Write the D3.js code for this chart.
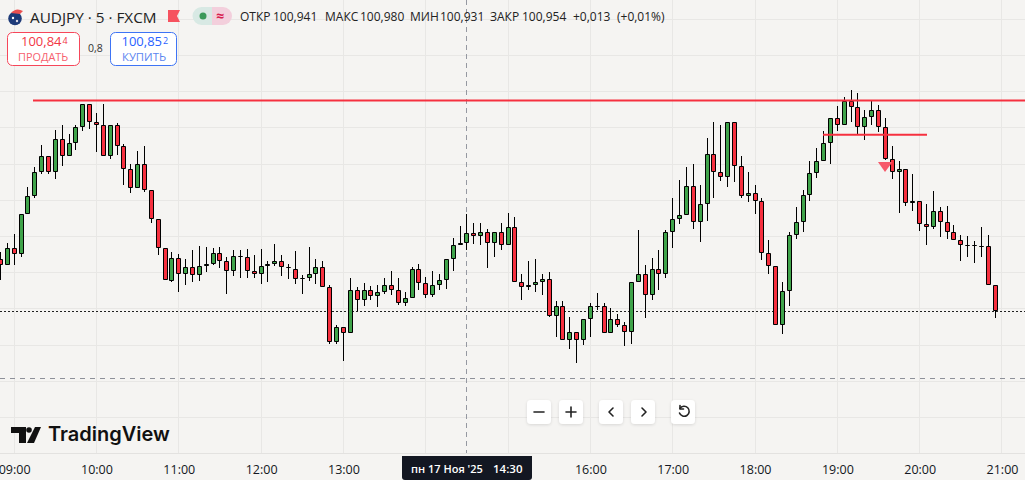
<!DOCTYPE html>
<html><head><meta charset="utf-8">
<style>html,body{margin:0;padding:0;background:#f5f4f2;overflow:hidden}svg{display:block}text{font-family:"Open Sans","Noto Sans",sans-serif}</style>
<script src="https://cdnjs.cloudflare.com/ajax/libs/d3/7.8.5/d3.min.js"></script></head><body><svg id="c" width="1025" height="480"></svg>
<script>
// OHLC prices, one entry per 5-minute bar; first bar is 2 bars before 09:00
const opens=[100.918,100.910,100.934,100.925,100.981,101.005,101.039,101.061,101.039,101.084,101.061,101.079,101.101,101.132,101.107,101.104,101.061,101.104,101.074,101.043,101.016,101.050,101.014,100.973,100.934,
100.888,100.920,100.898,100.907,100.896,100.908,100.911,100.926,100.916,100.901,100.923,100.921,100.901,100.898,100.908,100.912,100.916,100.907,100.905,100.892,100.892,100.897,100.907,100.879,100.803,
100.825,100.816,100.876,100.861,100.875,100.867,100.872,100.883,100.875,100.858,100.865,100.905,100.885,100.868,100.883,100.889,100.918,100.938,100.941,100.954,100.950,100.956,100.940,100.956,100.938,
100.962,100.886,100.879,100.883,100.886,100.890,100.840,100.854,100.806,100.817,100.807,100.836,100.854,100.854,100.816,100.836,100.827,100.818,100.887,100.898,100.868,100.905,100.898,100.956,100.974,
100.979,101.019,100.970,100.994,101.063,101.039,101.032,101.108,101.046,101.005,101.010,100.999,100.927,100.909,100.827,100.874,100.951,100.970,101.007,101.037,101.054,101.078,101.113,101.104,101.137,
101.128,101.100,101.114,101.124,101.101,101.057,101.039,101.042,100.995,100.998,100.967,100.962,100.985,100.970,100.955,100.945,100.937,100.937,100.936,100.936,100.883];
const highs=[100.928,100.941,100.953,100.981,101.018,101.045,101.076,101.061,101.096,101.103,101.091,101.103,101.133,101.133,101.120,101.132,101.104,101.106,101.077,101.050,101.068,101.075,101.014,100.974,100.934,
100.928,100.925,100.918,100.931,100.936,100.935,100.933,100.935,100.921,100.931,100.931,100.932,100.924,100.932,100.915,100.939,100.924,100.912,100.929,100.896,100.935,100.918,100.915,100.883,100.827,
100.825,100.892,100.879,100.885,100.881,100.883,100.892,100.902,100.892,100.872,100.907,100.911,100.893,100.901,100.898,100.918,100.947,100.964,100.980,100.968,100.968,100.960,100.956,100.968,100.982,
100.976,100.898,100.915,100.918,100.898,100.900,100.860,100.860,100.838,100.818,100.836,100.858,100.871,100.858,100.850,100.842,100.831,100.887,100.958,100.910,100.919,100.930,100.958,101.003,101.028,
101.045,101.049,101.021,101.086,101.107,101.103,101.108,101.108,101.061,101.039,101.020,101.002,100.945,100.909,100.887,100.956,100.990,101.013,101.053,101.072,101.095,101.113,101.130,101.142,101.152,
101.148,101.124,101.138,101.131,101.113,101.075,101.053,101.043,101.035,100.998,100.994,101.012,100.990,100.992,100.965,100.951,100.950,100.943,100.963,100.952,100.883];
const lows=[100.889,100.910,100.910,100.921,100.981,101.002,101.036,101.035,101.029,101.047,101.061,101.069,101.095,101.098,101.066,101.061,101.057,101.062,101.021,101.010,101.016,101.011,100.968,100.924,100.889,
100.887,100.873,100.883,100.886,100.888,100.900,100.910,100.906,100.870,100.895,100.892,100.892,100.892,100.884,100.887,100.909,100.895,100.891,100.884,100.870,100.888,100.884,100.879,100.801,100.801,
100.778,100.816,100.847,100.853,100.862,100.852,100.870,100.869,100.855,100.854,100.865,100.876,100.865,100.866,100.876,100.877,100.902,100.938,100.931,100.939,100.938,100.906,100.921,100.931,100.938,
100.886,100.862,100.875,100.873,100.869,100.838,100.811,100.806,100.794,100.774,100.800,100.810,100.848,100.816,100.816,100.824,100.798,100.801,100.887,100.837,100.861,100.876,100.892,100.934,100.966,
100.979,100.960,100.942,100.971,101.003,101.026,101.017,101.024,101.002,100.997,100.981,100.917,100.897,100.827,100.814,100.854,100.946,100.955,100.999,101.030,101.054,101.050,101.095,101.104,101.108,
101.089,101.083,101.104,101.094,101.055,101.029,100.982,100.992,100.984,100.957,100.938,100.960,100.949,100.946,100.944,100.916,100.921,100.913,100.921,100.882,100.837];
const closes=[100.910,100.934,100.925,100.981,101.005,101.039,101.061,101.039,101.084,101.061,101.079,101.101,101.132,101.107,101.104,101.061,101.104,101.074,101.043,101.016,101.050,101.014,100.973,100.934,100.889,
100.920,100.898,100.907,100.896,100.908,100.911,100.926,100.916,100.901,100.923,100.921,100.901,100.898,100.908,100.912,100.916,100.907,100.907,100.890,100.890,100.897,100.907,100.879,100.803,100.825,
100.816,100.876,100.861,100.875,100.867,100.872,100.883,100.875,100.858,100.865,100.905,100.885,100.868,100.883,100.889,100.918,100.938,100.941,100.954,100.950,100.956,100.940,100.956,100.938,100.962,
100.886,100.879,100.883,100.886,100.890,100.840,100.854,100.806,100.817,100.807,100.836,100.853,100.854,100.816,100.836,100.827,100.818,100.887,100.898,100.868,100.905,100.898,100.956,100.974,100.979,
101.019,100.970,100.994,101.063,101.039,101.032,101.108,101.046,101.005,101.010,100.999,100.927,100.909,100.827,100.874,100.951,100.970,101.007,101.037,101.054,101.078,101.113,101.104,101.137,101.128,
101.100,101.114,101.124,101.101,101.057,101.039,101.042,100.995,100.998,100.967,100.962,100.985,100.970,100.955,100.945,100.937,100.937,100.937,100.936,100.883,100.846];
const firstBar=-2;
// 14:00 and 15:00 are hidden by the crosshair time label in the reference
const hourLabels=["09:00","10:00","11:00","12:00","13:00","","","16:00","17:00","18:00","19:00","20:00","21:00"];
const priceTicks=[101.25,101.2,101.15,101.1,101.05,101.0,100.95,100.9,100.85,100.8,100.75,100.7];
const resistance=101.137, entryLine=101.09, lowerDash=100.754;
const header={sym:"AUDJPY · 5 · FXCM",ohlc:[["ОТКР",240],["100,941",273],["МАКС",325],["100,980",360],["МИН",410],["100,931",440],["ЗАКР",490],["100,954",522],["+0,013",573],["(+0,01%)",617]]};

const green="#3fa34a",red="#f6303f",ink="#131722";
const svg=d3.select("#c");
const x=d3.scaleLinear().domain([0,144]).range([14.15,14.15+6.86*144]);
const y=d3.scaleLinear().domain([100.65,101.2]).range([453.2,55]);
const px=v=>Math.floor(x(v))+.5;
const bars=opens.map((o,k)=>({i:k+firstBar,o,h:highs[k],l:lows[k],c:closes[k]}));

// grid
const hourIdx=hourLabels.map((_,k)=>k*12);
svg.append("g").selectAll("line").data(hourIdx).join("line").attr("x1",px).attr("x2",px).attr("y1",0).attr("y2",453).attr("stroke","#e8e7e5");
svg.append("g").selectAll("line").data(priceTicks).join("line").attr("x1",0).attr("x2",1025).attr("y1",d=>Math.round(y(d))+.5).attr("y2",d=>Math.round(y(d))+.5).attr("stroke","#e8e7e5");

// bottom axis
const ax=svg.append("g").attr("transform","translate(0,453.5)").call(d3.axisBottom(x).tickValues(hourIdx).tickSize(0).tickPadding(11).tickFormat((d,k)=>hourLabels[k]));
ax.select(".domain").attr("d","M0,0H1025").attr("stroke","#e3e2e0");
ax.selectAll("text").attr("font-size",12.5).attr("fill",ink).attr("font-family",'"Open Sans"').attr("dy","0.75em");

// level lines under candles
const lastY=Math.round(y(closes[closes.length-1]))+.5;
svg.append("line").attr("x1",0).attr("x2",1025).attr("y1",lastY).attr("y2",lastY).attr("stroke","#222").attr("stroke-dasharray","2 2");
svg.append("line").attr("x1",0).attr("x2",1025).attr("y1",Math.round(y(lowerDash))+.5).attr("y2",Math.round(y(lowerDash))+.5).attr("stroke","#8d9099").attr("stroke-dasharray","5 5");
svg.append("line").attr("x1",px(66)).attr("x2",px(66)).attr("y1",0).attr("y2",453).attr("stroke","#9598a1").attr("stroke-dasharray","5 4");

// candles
const g=svg.append("g");
g.selectAll("line").data(bars).join("line").attr("x1",d=>px(d.i)).attr("x2",d=>px(d.i)).attr("y1",d=>Math.round(y(d.h))).attr("y2",d=>Math.round(y(d.l))).attr("stroke","#000");
g.selectAll("path").data(bars).join("path").attr("d",d=>{
 const t=Math.round(y(Math.max(d.o,d.c))),b=Math.round(y(Math.min(d.o,d.c)));
 const x0=px(d.i)-2,x1=px(d.i)+2,y0=t+.5,y1=Math.max(b-.5,y0);
 return `M${x0},${y0}H${x1}V${y1}H${x0}Z`;
}).attr("fill",d=>d.c>=d.o?green:red).attr("stroke","#000");

// drawn levels
svg.append("line").attr("x1",33).attr("x2",1025).attr("y1",y(resistance)).attr("y2",y(resistance)).attr("stroke",red).attr("stroke-width",2);
svg.append("line").attr("x1",823).attr("x2",927).attr("y1",y(entryLine)).attr("y2",y(entryLine)).attr("stroke",red).attr("stroke-width",2);
svg.append("path").attr("d","M878,162H892.5L885,172Z").attr("fill","#f6596a");

// header
function T(s,xx,yy,fs,fill,o={}){const t=svg.append("text").attr("x",xx).attr("y",yy).attr("font-size",fs).attr("fill",fill).text(s);for(const k in o)t.attr(k,o[k]);return t;}
function price(main,sup,xx,yy,fill){const t=T(main,xx,yy,13,fill,{"font-weight":500});t.append("tspan").attr("font-size",9).attr("dy",-2).attr("dx",1).text(sup);}
const ic=svg.append("g");
ic.append("circle").attr("cx",15).attr("cy",18.5).attr("r",6.8).attr("fill","#1d3a78");
ic.append("circle").attr("cx",13).attr("cy",18).attr("r",1.2).attr("fill","#fff");
ic.append("circle").attr("cx",17).attr("cy",21).attr("r",1.2).attr("fill","#d9d9e6");
ic.append("path").attr("d","M11,13Q16,7 23,11L20,14Z").attr("fill","#ea4f4f");
T(header.sym,30,22.5,15.3,"#222");
svg.append("path").attr("d","M168,10H180L177,16L180,22H168Z").attr("fill","#f6525f");
svg.append("path").attr("d","M212,7H201.5A9,9 0 0 0 201.5,25H212Z").attr("fill","#d8e9e4");
svg.append("path").attr("d","M212,7H223A9,9 0 0 1 223,25H212Z").attr("fill","#f3cfdc");
svg.append("circle").attr("cx",203).attr("cy",16).attr("r",3.5).attr("fill","#3a9a5a");
T("≈",216,21,14,"#d8204f",{"font-weight":700});
header.ohlc.forEach(([s,xx])=>T(s,xx,21,12,"#222"));

// trade buttons
svg.append("rect").attr("x",7.5).attr("y",32.5).attr("width",72).attr("height",33).attr("rx",5).attr("fill","#fff").attr("stroke","#f6465a");
price("100,84","4",21,46,"#f23645");
T("ПРОДАТЬ",18,60.5,10.9,"#f6606e");
T("0,8",88,52,10.5,"#333");
svg.append("rect").attr("x",110.5).attr("y",32.5).attr("width",66).attr("height",33).attr("rx",5).attr("fill","#fff").attr("stroke","#3e74f5");
price("100,85","2",121.5,46,"#2962ff");
T("КУПИТЬ",122,60.5,11.3,"#5b85f0");

// logo
svg.append("path").attr("d","M11,427H26V443H19V433H11Z M35,427H41L34,443H27Z").attr("fill","#111");
svg.append("circle").attr("cx",29).attr("cy",430).attr("r",2.8).attr("fill","#111");
T("TradingView",48,441,20,"#111",{"font-weight":600,"style":"font-family:Inter"});

// nav buttons
const defs=svg.append("defs");
const f=defs.append("filter").attr("id","sh").attr("x","-30%").attr("y","-30%").attr("width","160%").attr("height","160%");
f.append("feDropShadow").attr("dx",0).attr("dy",1).attr("stdDeviation",1.5).attr("flood-color","#000").attr("flood-opacity",.12);
const btn=[527,559,599,631,671];
svg.append("g").selectAll("rect").data(btn).join("rect").attr("x",d=>d).attr("y",400).attr("width",24).attr("height",24).attr("rx",4).attr("fill","#fff").attr("filter","url(#sh)");
const ns={fill:"none",stroke:"#222","stroke-width":1.6,"stroke-linecap":"round","stroke-linejoin":"round"};
const P=d=>{const p=svg.append("path").attr("d",d);for(const k in ns)p.attr(k,ns[k]);};
P("M534,412H544");P("M566,412H576M571,407V417");P("M613,408L609,412L613,416");P("M642,408L646,412L642,416");
P("M680,408.5A5,5 0 1 1 679.5,413");P("M680,405.5V409H683.5");

// crosshair time label
svg.append("path").attr("d","M402,456H532V477Q532,480 529,480H405Q402,480 402,477Z").attr("fill",ink);
T("пн 17 Ноя '25",411,473,11,"#fff",{"font-weight":600});
T("14:30",493,473,11.5,"#fff",{"font-weight":600});
</script></body></html>
